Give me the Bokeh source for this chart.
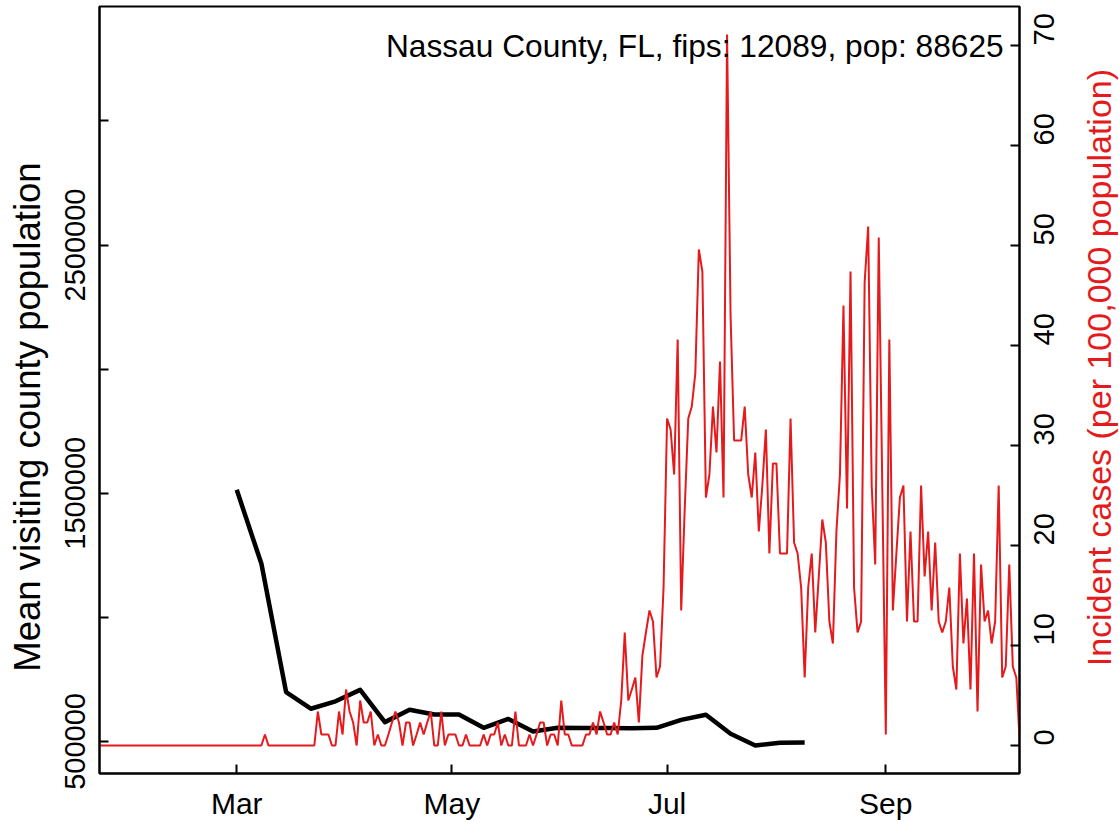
import math
import numpy as np
import pandas as pd
from bokeh.plotting import figure
from bokeh.layouts import row
from bokeh.core.properties import value
from bokeh.models import (Range1d, LinearAxis, FixedTicker, DatetimeTickFormatter, Label)
from bokeh.embed import file_html
from bokeh.resources import INLINE

FONT = "Liberation Sans"
RED = "#E41A1C"

# ---------------- data ----------------
title_text = "Nassau County, FL, fips: 12089, pop: 88625"
left_axis_title = "Mean visiting county population"
right_axis_title = "Incident cases (per 100,000 population)"

month_tick_dates = ["2020-03-01", "2020-05-01", "2020-07-01", "2020-09-01"]
month_tick_labels = ["Mar", "May", "Jul", "Sep"]

left_ticks = [500000, 1000000, 1500000, 2000000, 2500000, 3000000]
left_tick_labels = ["500000", "", "1500000", "", "2500000", ""]
right_ticks = [0, 10, 20, 30, 40, 50, 60, 70]

visit_dates = ["2020-03-01", "2020-03-08", "2020-03-15", "2020-03-22", "2020-03-29",
               "2020-04-05", "2020-04-12", "2020-04-19", "2020-04-26", "2020-05-03",
               "2020-05-10", "2020-05-17", "2020-05-24", "2020-05-31", "2020-06-07",
               "2020-06-14", "2020-06-21", "2020-06-28", "2020-07-05", "2020-07-12",
               "2020-07-19", "2020-07-26", "2020-08-02", "2020-08-09"]
visit_pop = [1514000, 1216000, 699000, 632000, 662000, 708000, 578000, 628000,
             609000, 609000, 555000, 591000, 540000, 555000, 554000, 554000,
             553000, 555000, 587000, 608000, 531000, 484000, 495000, 496000]

case_start = "2020-01-22"
cases_per_100k = (
    [0.0] * 47 +                      # Jan 22 - Mar 8
    [1.1] +                           # Mar 9
    [0.0] * 14 +                      # Mar 10 - Mar 23
    [3.4, 1.1, 1.1, 1.1, 0.0, 0.0, 3.4, 1.1, 5.6, 3.4,
     2.3, 0.0, 4.5, 2.3, 2.3, 3.4, 0.0, 1.1, 0.0, 0.0,
     1.1, 2.3, 3.4, 2.3, 0.0, 2.3, 2.3, 0.0, 1.1, 2.3,
     1.1, 2.3, 3.4, 0.0, 0.0, 3.4, 0.0, 1.1, 1.1, 1.1,
     0.0, 0.0, 1.1, 0.0, 0.0, 0.0, 0.0, 1.1, 0.0, 1.1,
     1.1, 2.3, 0.0, 1.1, 0.0, 0.0, 3.4, 0.0, 0.0, 0.0,
     1.1, 0.0, 1.1, 2.3, 2.3, 0.0, 1.1, 1.1, 0.0, 4.5,
     1.1, 1.1, 0.0, 0.0, 0.0, 0.0, 1.1, 1.1, 2.3, 1.1,
     3.4, 2.3, 1.1, 1.1, 2.3, 1.1, 4.5, 11.3, 4.5, 5.6,
     6.8, 2.3, 9.0, 11.3, 13.5, 12.4, 6.8, 7.9, 15.8, 32.7,
     31.6, 27.1, 40.6, 13.5, 23.7, 32.7, 33.9, 37.2, 49.6, 47.4,
     24.8, 27.1, 33.9, 29.3, 38.4, 24.8, 71.1, 42.9, 30.5, 30.5,
     30.5, 33.9, 27.1, 24.8, 29.3, 21.4, 26.0, 31.6, 19.2, 28.2,
     28.2, 19.2, 19.2, 19.2, 32.7, 20.3, 19.2, 15.8, 6.8, 15.8,
     19.2, 11.3, 16.9, 22.6, 20.3, 12.4, 10.2, 21.4, 27.1, 44.0,
     23.7, 47.4, 15.8, 11.3, 12.4, 46.3, 51.9, 26.0, 18.1, 50.8,
     26.0, 1.1, 40.6, 13.5, 19.2, 24.8, 26.0, 12.4, 21.4, 12.4,
     12.4, 26.0, 16.9, 21.4, 13.5, 20.3, 12.4, 11.3, 12.4, 15.8,
     7.9, 5.6, 19.2, 10.2, 14.7, 5.6, 19.2, 3.4, 18.1, 12.4,
     13.5, 10.2, 12.4, 26.0, 6.8, 7.9, 18.1, 7.9, 6.8, 0.0]
)

# ---------------- derived ----------------
visit_x = pd.to_datetime(visit_dates)
case_x = pd.Timestamp(case_start) + pd.to_timedelta(np.arange(len(cases_per_100k)), unit="D")


def ms(ts):
    return pd.Timestamp(ts).value / 1e6


mar1 = pd.Timestamp("2020-03-01")
x_start = mar1 - pd.Timedelta(days=38.9)
x_end = mar1 + pd.Timedelta(days=221.9)

H = 822
LEFT_W = 50
RIGHT_W = 41
MAIN_LEFT = 49
MAIN_RIGHT = 59

# ---------------- main plot ----------------
p = figure(
    x_axis_type="datetime",
    frame_width=920, frame_height=767,
    min_border_left=MAIN_LEFT, min_border_right=MAIN_RIGHT, min_border_top=6, min_border_bottom=49,
    x_range=Range1d(ms(x_start), ms(x_end)),
    y_range=Range1d(371070, 3460920),
    output_backend="svg", toolbar_location=None,
    background_fill_color="white", border_fill_color="white",
)
p.extra_y_ranges = {"cases": Range1d(-2.8, 73.9)}
p.grid.visible = False
p.outline_line_color = "black"
p.outline_line_width = 2

right_axis = LinearAxis(y_range_name="cases")
p.add_layout(right_axis, "right")

for ax in [p.xaxis[0], p.yaxis[0], right_axis]:
    ax.major_tick_in = 9
    ax.major_tick_out = 0
    ax.minor_tick_line_color = None
    ax.axis_line_width = 2
    ax.axis_line_color = "black"
    ax.major_tick_line_width = 2
    ax.major_tick_line_color = "black"
    ax.major_label_text_font = FONT
    ax.major_label_text_font_size = "29px"
    ax.major_label_text_color = "black"

# x axis
xa = p.xaxis[0]
xa.ticker = FixedTicker(ticks=[ms(d) for d in month_tick_dates])
xa.major_label_overrides = {ms(d): lab for d, lab in zip(month_tick_dates, month_tick_labels)}
xa.formatter = DatetimeTickFormatter(days="%b", months="%b", years="%b")
xa.major_label_text_font_size = "30px"
xa.major_label_standoff = 13

# left axis
ly = p.yaxis[0]
ly.ticker = FixedTicker(ticks=left_ticks)
ly.major_label_overrides = {t: lab for t, lab in zip(left_ticks, left_tick_labels)}
ly.major_label_orientation = "vertical"
ly.major_label_standoff = 14

# right axis
right_axis.ticker = FixedTicker(ticks=right_ticks)
right_axis.major_label_orientation = math.pi / 2
right_axis.major_label_standoff = 24

# lines
p.line(visit_x, visit_pop, line_color="black", line_width=4.5, line_join="round")
p.line(case_x, cases_per_100k, y_range_name="cases", line_color=RED, line_width=2)

title = Label(x=ms(mar1 + pd.Timedelta(days=217.4)), y=70.0, y_range_name="cases",
              text=title_text, text_align="right", text_baseline="alphabetic",
              text_font=FONT, text_font_size="31.7px", text_color="black")
p.add_layout(title)


# ---------------- side strips holding the rotated axis titles ----------------
def strip(width):
    f = figure(width=width, height=H, x_range=Range1d(0, width), y_range=Range1d(0, H),
               min_border=0, toolbar_location=None, output_backend="svg",
               x_axis_location=None, y_axis_location=None,
               background_fill_color="white", border_fill_color="white")
    f.grid.visible = False
    f.outline_line_color = None
    return f


left_strip = strip(LEFT_W)
left_strip.text(x=[27], y=[H - 440], text=[left_axis_title], angle=math.pi / 2,
                text_align="center", text_baseline="middle",
                text_font=value(FONT), text_font_size=value("36.5px"), text_color="black")

right_strip = strip(RIGHT_W)
right_strip.text(x=[20], y=[H - 387], text=[right_axis_title], angle=math.pi / 2,
                 text_align="center", text_baseline="middle",
                 text_font=value(FONT), text_font_size=value("34px"), text_color=RED)

layout = row(left_strip, p, right_strip, spacing=0)

open("out.html", "w").write(file_html(layout, INLINE))
